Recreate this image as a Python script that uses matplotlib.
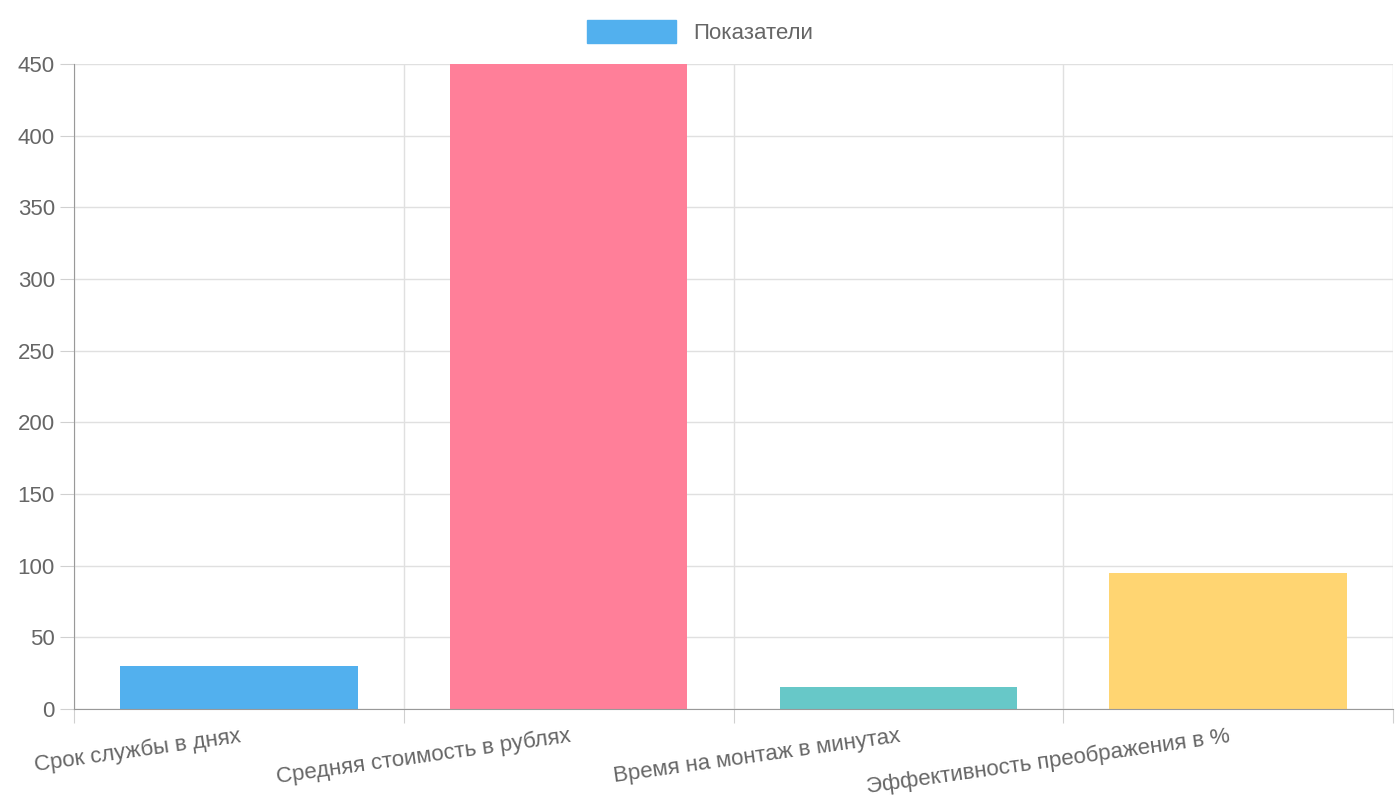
import matplotlib.pyplot as plt
from matplotlib.patches import Patch

categories = ["Срок службы в днях", "Средняя стоимость в рублях",
              "Время на монтаж в минутах", "Эффективность преображения в %"]
values = [30, 450, 15, 95]
colors = ["#52b0ee", "#ff7f99", "#67c8c8", "#ffd572"]

plt.rcParams["font.family"] = ["Liberation Sans", "DejaVu Sans"]

fig = plt.figure(figsize=(14, 8), dpi=100)
ax = fig.add_axes([0.053, 0.114, 0.942, 0.806])

x = list(range(len(categories)))
ax.bar(x, values, width=0.72, color=colors, zorder=2)
ax.set_xlim(-0.5, len(categories) - 0.5)
ax.set_ylim(0, 450)
ax.set_yticks(range(0, 451, 50))

# vertical grid at category boundaries
bounds = [i - 0.5 for i in range(len(categories) + 1)]
ax.set_xticks(bounds)
ax.set_xticklabels([])
ax.tick_params(axis="x", length=10, color="#d0d0d0")
ax.tick_params(axis="y", length=10, color="#d0d0d0", labelsize=16, labelcolor="#666666", pad=4)
ax.grid(True, color="#e0e0e0", linewidth=1, zorder=0)

for i, c in enumerate(categories):
    ax.text(i, -12, c, rotation=8, ha="right", va="top", rotation_mode="anchor",
            fontsize=16, color="#666666")

for s in ["top", "right"]:
    ax.spines[s].set_visible(False)
ax.spines["left"].set_color("#999999")
ax.spines["bottom"].set_color("#999999")

fig.legend(handles=[Patch(color="#52b0ee")], labels=["Показатели"],
           loc="center", bbox_to_anchor=(0.5, 0.96), frameon=False,
           fontsize=16, labelcolor="#666666", handlelength=4, handleheight=1.2)

fig.savefig("out.png", dpi=100)
